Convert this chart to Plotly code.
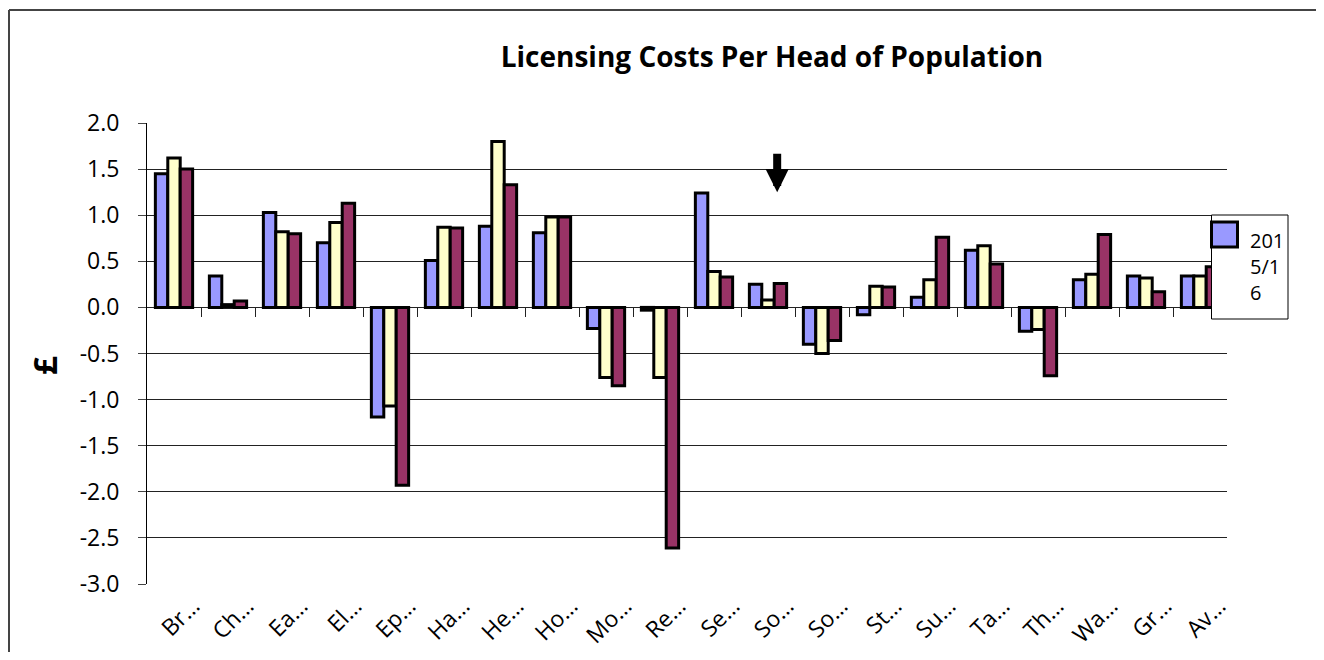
import plotly.graph_objects as go
import numpy as np

categories = ["Br…", "Ch…", "Ea…", "El…", "Ep…", "Ha…", "He…", "Ho…", "Mo…", "Re…",
              "Se…", "So…", "So…", "St…", "Su…", "Ta…", "Th…", "Wa…", "Gr…", "Av…"]
series_names = ["2015/16", "2016/17", "2017/18"]
values_a = [1.45, 0.34, 1.03, 0.70, -1.19, 0.51, 0.88, 0.81, -0.23, -0.03,
            1.24, 0.25, -0.40, -0.08, 0.11, 0.62, -0.26, 0.30, 0.34, 0.34]
values_b = [1.62, 0.03, 0.82, 0.92, -1.07, 0.87, 1.80, 0.98, -0.76, -0.76,
            0.39, 0.08, -0.50, 0.23, 0.30, 0.67, -0.24, 0.36, 0.32, 0.34]
values_c = [1.50, 0.07, 0.80, 1.13, -1.93, 0.86, 1.33, 0.98, -0.85, -2.61,
            0.33, 0.26, -0.36, 0.22, 0.76, 0.47, -0.74, 0.79, 0.17, 0.44]
colors = ["#9999FF", "#FFFFCC", "#993366"]
y_ticks = [2.0, 1.5, 1.0, 0.5, 0.0, -0.5, -1.0, -1.5, -2.0, -2.5, -3.0]

x_pos = np.arange(len(categories))
FONT = "Open Sans"

fig = go.Figure()
for name, vals, col in zip(series_names, [values_a, values_b, values_c], colors):
    fig.add_trace(go.Bar(
        x=x_pos, y=vals, name=name, showlegend=False,
        marker=dict(color=col, line=dict(color="black", width=3)),
    ))
# empty helper trace so the category-boundary tick axis is drawn
fig.add_trace(go.Scatter(x=[], y=[], xaxis="x2", showlegend=False, hoverinfo="skip"))

# page has an 8px body margin; figure sized so the page is exactly 1324x660
OFF = 8
W, H = 1324 - 2 * OFF, 660 - 2 * OFF
# plot area in page pixels: x 147..1227, y 123..584
L, R, T, B = 147, 1227, 123, 584
def px(x):
    return (x - L) / (R - L)
def py(y):
    return (B - y) / (B - T)

fig.update_layout(
    width=W, height=H,
    margin=dict(l=L - OFF, r=W - (R - OFF), t=T - OFF, b=H - (B - OFF), autoexpand=False),
    paper_bgcolor="white", plot_bgcolor="white",
    barmode="group", bargap=0.31, bargroupgap=0,
    font=dict(family=FONT, color="black"),
    title=dict(text="<b>Licensing Costs Per Head of Population</b>",
               font=dict(size=28, family=FONT, color="black"),
               x=(772 - OFF) / W, xref="container", xanchor="center",
               y=1 - (57 - OFF) / H, yref="container", yanchor="middle"),
    xaxis=dict(range=[-0.5, len(categories) - 0.5], tickmode="array",
               tickvals=list(x_pos), ticktext=categories, tickangle=-45,
               showgrid=False, zeroline=False, showline=False, ticks="",
               automargin=False,
               tickfont=dict(size=23, family=FONT, color="black"),
               ticklabelshift=19, ticklabelstandoff=3),
    xaxis2=dict(overlaying="x", anchor="free", position=py(307.4),
                range=[-0.5, len(categories) - 0.5], tickmode="array",
                tickvals=[i + 0.5 for i in range(len(categories))],
                ticks="outside", ticklen=9, tickcolor="#222", tickwidth=1,
                automargin=False,
                showticklabels=False, showgrid=False, zeroline=False, showline=False),
    yaxis=dict(range=[-3.0, 2.0], tickmode="array", tickvals=y_ticks,
               ticktext=[f"{v:.1f}" for v in y_ticks],
               showgrid=True, gridcolor="#222", gridwidth=1,
               zeroline=True, zerolinecolor="#222", zerolinewidth=1,
               showline=True, linecolor="black", linewidth=1,
               ticks="outside", ticklen=8, tickcolor="#444",
               automargin=False, ticklabelstandoff=14,
               tickfont=dict(size=23, family=FONT, color="black")),
)

shapes = [
    # outer chart border (top and left edges visible in the frame)
    dict(type="line", xref="paper", yref="paper",
         x0=px(9), x1=px(1316), y0=py(10), y1=py(10),
         line=dict(color="#444", width=2), layer="above"),
    dict(type="line", xref="paper", yref="paper",
         x0=px(9), x1=px(9), y0=py(10), y1=py(652),
         line=dict(color="#444", width=2), layer="above"),
    # legend box
    dict(type="rect", xref="paper", yref="paper",
         x0=px(1211.5), x1=px(1288), y0=py(319), y1=py(215),
         line=dict(color="black", width=1), fillcolor="white", layer="above"),
    # legend swatch
    dict(type="rect", xref="paper", yref="paper",
         x0=px(1211.5), x1=px(1237.5), y0=py(247), y1=py(222),
         line=dict(color="black", width=3), fillcolor=colors[0], layer="above"),
]
fig.update_layout(shapes=shapes)

fig.add_annotation(xref="paper", yref="paper", x=px(1248), y=py(266),
                   xanchor="left", yanchor="middle", align="left",
                   text="201<br>5/1<br>6", showarrow=False,
                   font=dict(size=20, family=FONT, color="black"))

fig.add_annotation(xref="paper", yref="paper", x=px(44), y=py(366),
                   text="<b>£</b>", textangle=-90, showarrow=False,
                   xanchor="center", yanchor="middle",
                   font=dict(size=33, family=FONT, color="black"))

# pointer arrow
fig.add_annotation(x=11.17, y=1.25, xref="x", yref="y", text="",
                   showarrow=True, ax=0, ay=-40, axref="pixel", ayref="pixel",
                   arrowhead=2, arrowwidth=8, arrowsize=0.58, arrowcolor="black")

fig.write_html("out.html")
